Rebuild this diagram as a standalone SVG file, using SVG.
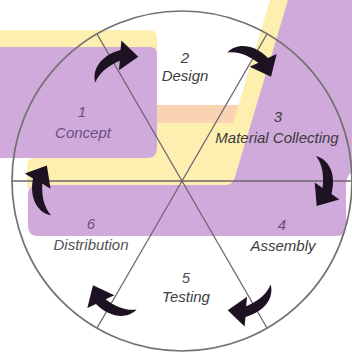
<svg xmlns="http://www.w3.org/2000/svg" xmlns:xlink="http://www.w3.org/1999/xlink" width="352" height="353" viewBox="0 0 352 353">
<style>
.yel{fill:#fcefb0}
.pur{fill:#cfaada}
.sal{fill:#f9d3b2}
.spoke{stroke:#6e6470;stroke-width:1.3;fill:none}
.ring{stroke:#747074;stroke-width:1.7;fill:none}
.arrow{fill:#1c1222}
text{font-family:"Liberation Sans",Arial,sans-serif;font-style:italic;font-size:15px;text-anchor:middle}
.pt{fill:#6c4e84}
.gt{fill:#3e3a3e}
.lt{fill:#555055}
</style>
<defs>
<path id="arr" d="M134,-25 C146,-22 155,-8 149.5,13 L157.3,18.5 L134.7,25 L132.7,1.5 L140.5,7 C142,-4 141,-16 134,-25 Z"/>
</defs>
<rect width="352" height="353" fill="#ffffff"/>
<g id="background">
<path class="yel" d="M0,30 H149 Q157,30 157,38 V150 H0 Z"/>
<path class="yel" d="M270,0 L292,0 L240,190 L32,190 Q27,190 27,185 L27,165 Q27,158 34,158 L150,158 L150,105 L238.5,105 Z"/>
<path class="sal" d="M157,105 L238.5,105 L233,123 L157,123 Z"/>
<path class="pur" d="M0,47 H150 Q157,47 157,54 V148 Q157,158 147,158 H0 Z"/>
<path class="pur" d="M288,0 H352 V172 Q346,176 346,186 V226 Q346,236 336,236 H38 Q28,236 28,226 V195 Q28,185 38,185 H226 Q233,185 235,177 L288,0 Z"/>
</g>
<g id="wheel">
<line class="spoke" x1="97" y1="34" x2="267" y2="328"/>
<line class="spoke" x1="267" y1="34" x2="97" y2="328"/>
<line class="spoke" x1="12" y1="181" x2="352" y2="181"/>
<circle class="ring" cx="182" cy="181" r="170"/>
</g>
<g id="connectors">
<use xlink:href="#arr" class="arrow" transform="translate(184,186) rotate(-120)"/>
<use xlink:href="#arr" class="arrow" transform="translate(182,181) rotate(-60)"/>
<use xlink:href="#arr" class="arrow" transform="translate(182,181) rotate(0)"/>
<use xlink:href="#arr" class="arrow" transform="translate(182,181) rotate(60)"/>
<use xlink:href="#arr" class="arrow" transform="translate(182,181) rotate(120)"/>
<use xlink:href="#arr" class="arrow" transform="translate(183,181) rotate(176)"/>
</g>
<g id="node-1">
<text class="pt" x="82" y="117">1</text>
<text class="pt" x="83" y="138">Concept</text>
</g>
<g id="node-2">
<text class="gt" x="185" y="63">2</text>
<text class="gt" x="185" y="81">Design</text>
</g>
<g id="node-3">
<text class="gt" x="278" y="122">3</text>
<text class="gt" x="277" y="143">Material Collecting</text>
</g>
<g id="node-4">
<text class="pt" x="282" y="230">4</text>
<text class="gt" x="283" y="251">Assembly</text>
</g>
<g id="node-5">
<text class="lt" x="186" y="283">5</text>
<text class="gt" x="186" y="302">Testing</text>
</g>
<g id="node-6">
<text class="pt" x="91" y="229">6</text>
<text class="lt" x="91" y="250">Distribution</text>
</g>
</svg>
